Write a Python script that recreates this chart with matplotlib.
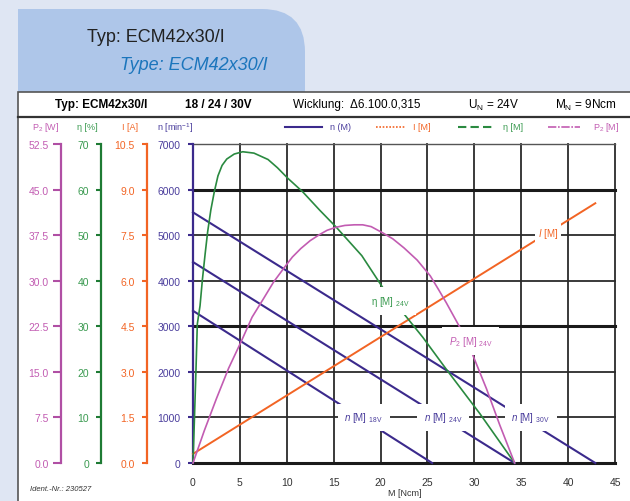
import matplotlib.pyplot as plt
from matplotlib.path import Path
from matplotlib.patches import PathPatch, Rectangle

plt.rcParams['font.family'] = ['Liberation Sans', 'DejaVu Sans']
plt.rcParams['mathtext.fontset'] = 'custom'
plt.rcParams['mathtext.rm'] = 'Liberation Sans'
plt.rcParams['mathtext.it'] = 'Liberation Sans:italic'
plt.rcParams['mathtext.bf'] = 'Liberation Sans:bold'

# scales
torque_ticks = [0, 5, 10, 15, 20, 25, 30, 35, 40, 45]
speed_ticks = [0, 1000, 2000, 3000, 4000, 5000, 6000, 7000]
p2_ticks = [0.0, 7.5, 15.0, 22.5, 30.0, 37.5, 45.0, 52.5]
eta_ticks = [0, 10, 20, 30, 40, 50, 60, 70]
current_ticks = [0.0, 1.5, 3.0, 4.5, 6.0, 7.5, 9.0, 10.5]

# speed lines n(M) for 18 / 24 / 30 V
n18_M = [0, 25.5]
n18 = [3340, 0]
n24_M = [0, 34.3]
n24 = [4410, 0]
n30_M = [0, 42.9]
n30 = [5500, 0]

# current I(M)
cur_M = [0, 42.9]
cur_A = [0.3, 8.55]

# efficiency eta(M), 24 V
eta_M = [0, 0.15, 0.32, 0.46, 0.75, 1.0, 1.3, 1.56, 1.9, 2.27, 2.66, 3.1, 3.6, 4.4, 5.3,
         6.5, 8.0, 9.0, 10.1, 11.7, 13.5, 15.25, 18.0, 20.2, 22.5, 24.5, 27.0, 30.6, 34.3]
eta = [0, 9.5, 20.6, 30.5, 34.5, 40.2, 46.0, 50.7, 55.5, 59.5, 63.0, 65.3, 66.7, 67.8, 68.3,
       68.0, 66.6, 64.8, 62.5, 59.5, 55.5, 51.8, 45.5, 38.6, 32.7, 27.6, 20.6, 10.8, 0]

# output power P2(M), 24 V
p2_M = [0, 1.2, 2.5, 3.8, 5.2, 6.3, 7.5, 8.6, 9.8, 10.6, 11.5, 12.5, 13.5, 14.3, 15.25,
        16.2, 17.2, 18.1, 19.0, 20.2, 21.3, 22.5, 23.9, 25.3, 26.2, 27.0, 28.5, 29.8,
        31.3, 32.7, 34.3]
p2 = [0, 5.3, 10.6, 15.6, 20.2, 24.0, 27.0, 29.8, 32.3, 33.9, 35.3, 36.6, 37.6, 38.3, 38.8,
      39.1, 39.2, 39.2, 38.9, 37.9, 36.9, 35.4, 33.4, 30.8, 28.5, 26.4, 22.2, 17.9,
      12.2, 6.3, 0]

navy = '#3b2a8c'
navy_txt = '#4a3d9c'
orange = '#f26424'
green = '#2a8a40'
green_txt = '#3a9a50'
magenta = '#c25cb2'
magenta_sp = '#b04fa4'

W, H = 630, 502
fig = plt.figure(figsize=(W / 100, H / 100), dpi=100)
fig.patch.set_facecolor('#dfe6f3')

# pixel-space layer for frame, header and legend
bg = fig.add_axes([0, 0, 1, 1])
bg.set_xlim(0, W)
bg.set_ylim(H, 0)
bg.axis('off')

tab = Path([(18, 93), (18, 10), (262, 10), (305, 10), (305, 53), (305, 93), (18, 93)],
           [Path.MOVETO, Path.LINETO, Path.LINETO, Path.CURVE3, Path.CURVE3,
            Path.LINETO, Path.CLOSEPOLY])
bg.add_patch(PathPatch(tab, facecolor='#aec6e9', edgecolor='none'))
bg.text(87, 38, 'Typ: ECM42x30/I', fontsize=13, color='#222222', va='center')
bg.text(120, 66, 'Type: ECM42x30/I', fontsize=13, color='#1b75bc', style='italic', va='center')

bg.add_patch(Rectangle((18, 93), 640, 440, facecolor='white', edgecolor='#555555', lw=1.2))
bg.plot([18, W], [118, 118], color='#333333', lw=1.6)

bg.text(55, 105, 'Typ: ECM42x30/I', fontsize=8.5, fontweight='bold', va='center')
bg.text(185, 105, '18 / 24 / 30V', fontsize=8.5, fontweight='bold', va='center')
bg.text(293, 105, 'Wicklung:  \u03946.100.0,315', fontsize=8.5, va='center')
bg.text(468, 105, r'U$_\mathrm{N}$ = 24V', fontsize=8.5, va='center')
bg.text(555, 105, r'M$_\mathrm{N}$ = 9Ncm', fontsize=8.5, va='center')

# legend row
bg.plot([285, 322], [128, 128], color=navy, lw=1.5)
bg.text(330, 128, 'n (M)', fontsize=6.5, color=navy_txt, va='center')
bg.plot([376, 406], [128, 128], color=orange, lw=1.2, linestyle=(0, (1, 1)))
bg.text(413, 128, 'I [M]', fontsize=6.5, color=orange, va='center')
bg.plot([458, 495], [128, 128], color=green, lw=1.5, linestyle=(0, (4, 2)))
bg.text(503, 128, '\u03b7 [M]', fontsize=6.5, color=green_txt, va='center')
bg.plot([548, 580], [128, 128], color=magenta, lw=1.2, linestyle=(0, (5, 1, 1, 1)))
bg.text(593, 128, r'P$_2$ [M]', fontsize=6.5, color=magenta, va='center')

# scale titles
bg.text(46, 128, r'P$_2$ [W]', fontsize=6.5, color=magenta, ha='center', va='center')
bg.text(87, 128, '\u03b7 [%]', fontsize=6.5, color=green_txt, ha='center', va='center')
bg.text(130, 128, 'I [A]', fontsize=6.5, color=orange, ha='center', va='center')
bg.text(175, 128, r'n [min$^{-1}$]', fontsize=6.5, color=navy_txt, ha='center', va='center')

bg.text(405, 494, 'M [Ncm]', fontsize=6.5, color='#333333', ha='center', va='center')
bg.text(30, 490, 'Ident.-Nr.: 230527', fontsize=5.5, style='italic', color='#333333', va='center')

# main plot area
ax = fig.add_axes([193 / W, 1 - 464 / H, (615 - 193) / W, (464 - 145) / H])
ax.set_facecolor('none')
ax.set_xlim(0, 45)
ax.set_ylim(0, 7000)
for s in ['top', 'right', 'bottom']:
    ax.spines[s].set_visible(False)
ax.spines['left'].set_color(navy)
ax.spines['left'].set_linewidth(1.6)
ax.spines['left'].set_zorder(4)

for v in torque_ticks:
    ax.axvline(v, color='#2b2b2b', lw=1.3, zorder=1, clip_on=False)
for v in speed_ticks:
    if v in (0, 3000, 6000):
        ax.axhline(v, color='#1a1a1a', lw=2.2, zorder=1, clip_on=False)
    elif v == 7000:
        ax.axhline(v, color='#555555', lw=1.0, zorder=1, clip_on=False)
    else:
        ax.axhline(v, color='#2b2b2b', lw=1.3, zorder=1, clip_on=False)

ax.set_xticks(torque_ticks)
ax.tick_params(axis='x', length=0, pad=10, labelsize=7.5, labelcolor='#333333')
ax.set_yticks(speed_ticks)
ax.set_yticklabels([str(v) for v in speed_ticks])
ax.tick_params(axis='y', direction='out', length=3.6, width=1.5, color=navy,
               labelcolor=navy_txt, labelsize=7.5, pad=5.5)

ax.plot(n18_M, n18, color=navy, lw=1.5, zorder=3, clip_on=False)
ax.plot(n24_M, n24, color=navy, lw=1.5, zorder=3, clip_on=False)
ax.plot(n30_M, n30, color=navy, lw=1.5, zorder=3, clip_on=False)


def side_scale(a, offset, spine_col, label_col, ticks, labels, lim, tick_len, pad):
    for s in a.spines.values():
        s.set_visible(False)
    a.spines['left'].set_visible(True)
    a.spines['left'].set_position(('outward', offset))
    a.spines['left'].set_color(spine_col)
    a.spines['left'].set_linewidth(1.6)
    a.yaxis.tick_left()
    a.set_ylim(*lim)
    a.set_yticks(ticks)
    a.set_yticklabels(labels)
    a.tick_params(axis='y', direction='out', length=tick_len, width=1.5, color=spine_col,
                  labelcolor=label_col, labelsize=7.5, pad=pad)


axI = ax.twinx()
side_scale(axI, 32.8, orange, orange, current_ticks, ['%.1f' % v for v in current_ticks],
           (0, 10.5), 3.6, 5.5)
axE = ax.twinx()
side_scale(axE, 66.2, '#1e7b34', green_txt, eta_ticks, [str(v) for v in eta_ticks],
           (0, 70), 3.6, 5.0)
axP = ax.twinx()
side_scale(axP, 95.0, magenta_sp, magenta, p2_ticks, ['%.1f' % v for v in p2_ticks],
           (0, 52.5), 5.5, 3.5)

axI.plot(cur_M, cur_A, color=orange, lw=1.4, clip_on=False)
axE.plot(eta_M, eta, color=green, lw=1.2, clip_on=False)
axP.plot(p2_M, p2, color=magenta, lw=1.2, clip_on=False)

# curve labels with white knock-out boxes
box = dict(boxstyle='square,pad=0.7', facecolor='white', edgecolor='none')
lab = dict(transform=ax.transData, fontsize=7, ha='center', va='center', zorder=10, bbox=box)
axP.text(18.2, 1000, r'$n$ [M] $_{\mathrm{18V}}$', color=navy_txt, **lab)
axP.text(26.7, 1000, r'$n$ [M] $_{\mathrm{24V}}$', color=navy_txt, **lab)
axP.text(36.0, 1000, r'$n$ [M] $_{\mathrm{30V}}$', color=navy_txt, **lab)
axP.text(21.0, 3550, r'$\mathrm{\eta}$ [M] $_{\mathrm{24V}}$', color=green_txt, **lab)
axP.text(29.6, 2680, r'$P_{\mathrm{2}}$ [M] $_{\mathrm{24V}}$', color=magenta, **lab)
axP.text(37.9, 5050, r'$I$ [M]', color=orange, transform=ax.transData, fontsize=7,
         ha='center', va='center', zorder=10,
         bbox=dict(boxstyle='square,pad=0.3', facecolor='white', edgecolor='none'))

fig.savefig('out.png', dpi=100, facecolor=fig.get_facecolor())
